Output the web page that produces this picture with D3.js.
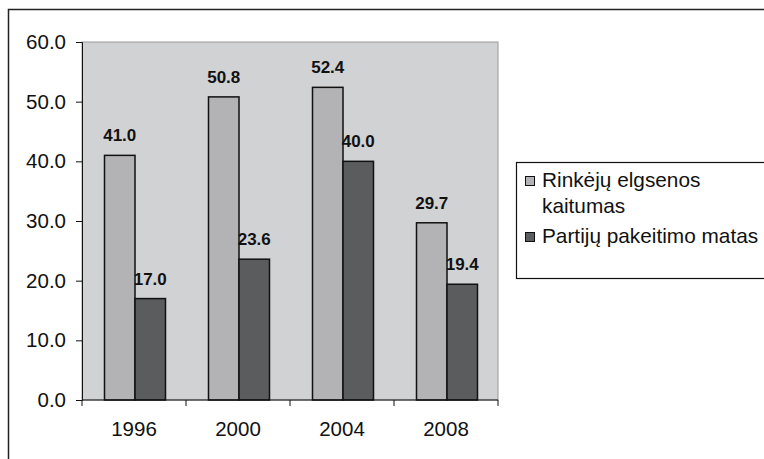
<!DOCTYPE html>
<html>
<head>
<meta charset="utf-8">
<script src="https://cdn.jsdelivr.net/npm/d3@7"></script>
<style>
  body { margin: 0; background: #fff; }
  svg { display: block; font-family: "Liberation Sans", Arial, sans-serif; }
</style>
</head>
<body>
<svg id="chart" width="764" height="459"></svg>
<script>
var years = ["1996", "2000", "2004", "2008"];
var seriesNames = ["Rinkėjų elgsenos kaitumas", "Partijų pakeitimo matas"];
var rinkeju = [41.0, 50.8, 52.4, 29.7];
var partiju = [17.0, 23.6, 40.0, 19.4];
var yTicks = [0, 10, 20, 30, 40, 50, 60];

var colors = ["#b3b3b5", "#5b5c5e"];
var svg = d3.select("#chart");

// outer frame (cut off at right and bottom)
svg.append("path")
  .attr("d", "M8.5,470 L8.5,9.5 L780,9.5")
  .attr("fill", "none").attr("stroke", "#222").attr("stroke-width", 1.5);

var pLeft = 82, pRight = 498, pTop = 42, pBottom = 400;

var x = d3.scaleBand().domain(years).range([pLeft, pRight]);
var y = d3.scaleLinear().domain([0, 60]).range([pBottom, pTop]);

// plot background
svg.append("rect")
  .attr("x", pLeft).attr("y", pTop)
  .attr("width", pRight - pLeft).attr("height", pBottom - pTop)
  .attr("fill", "#d1d2d4").attr("stroke", "#9a9a9a").attr("stroke-width", 1);

var data = years.map(function(yr, i) {
  return {year: yr, vals: [rinkeju[i], partiju[i]]};
});

var barW = 30.5;
var groups = svg.selectAll(".grp").data(data).enter().append("g")
  .attr("class", "grp");

groups.each(function(d) {
  var g = d3.select(this);
  var cx = x(d.year) + x.bandwidth() / 2 + 1;
  d.vals.forEach(function(v, j) {
    var bx = cx - barW + j * barW;
    g.append("rect")
      .attr("x", bx).attr("y", y(v))
      .attr("width", barW).attr("height", y(0) - y(v))
      .attr("fill", colors[j]).attr("stroke", "#111").attr("stroke-width", 1.5);
    g.append("text")
      .attr("x", bx + barW / 2).attr("y", y(v) - 14)
      .attr("text-anchor", "middle")
      .attr("font-size", 17).attr("font-weight", "bold").attr("fill", "#111")
      .text(v.toFixed(1));
  });
});

// y axis
var yAxis = svg.append("g")
  .attr("transform", "translate(" + pLeft + ",0)")
  .call(d3.axisLeft(y).tickValues(yTicks).tickSize(6).tickPadding(10)
    .tickFormat(function(d) { return d.toFixed(1); }));
yAxis.select(".domain").attr("stroke", "#111");
yAxis.selectAll(".tick line").attr("stroke", "#111");
yAxis.selectAll("text").attr("font-size", 20.5).attr("fill", "#111")
  .attr("font-family", "Liberation Sans, Arial, sans-serif");

// x axis
var xAxis = svg.append("g")
  .attr("transform", "translate(0," + pBottom + ")")
  .call(d3.axisBottom(x).tickSize(0).tickPadding(21));
xAxis.select(".domain").attr("stroke", "#111").attr("d", "M" + pLeft + ",0H" + pRight);
xAxis.selectAll("text").attr("font-size", 20.5).attr("fill", "#111")
  .attr("font-family", "Liberation Sans, Arial, sans-serif");
// separators between categories
var seps = years.map(function(yr) { return x(yr); }).concat([pRight]);
xAxis.selectAll(".sep").data(seps).enter().append("line")
  .attr("class", "sep")
  .attr("x1", function(d) { return d; }).attr("x2", function(d) { return d; })
  .attr("y1", 0).attr("y2", 6).attr("stroke", "#111");

// legend
var lg = svg.append("g");
lg.append("rect")
  .attr("x", 516.5).attr("y", 162.5).attr("width", 300).attr("height", 116)
  .attr("fill", "#fff").attr("stroke", "#111").attr("stroke-width", 1.2);

var legendLines = [["Rinkėjų elgsenos", "kaitumas"], ["Partijų pakeitimo matas"]];
var legendY = [187, 243];
legendLines.forEach(function(lines, i) {
  lg.append("rect")
    .attr("x", 525.5).attr("y", legendY[i] - 10.5).attr("width", 9).attr("height", 9)
    .attr("fill", colors[i]).attr("stroke", "#111").attr("stroke-width", 1);
  lines.forEach(function(t, k) {
    lg.append("text")
      .attr("x", 542).attr("y", legendY[i] + k * 26)
      .attr("font-size", 20.8).attr("fill", "#111")
      .text(t);
  });
});
</script>
</body>
</html>
